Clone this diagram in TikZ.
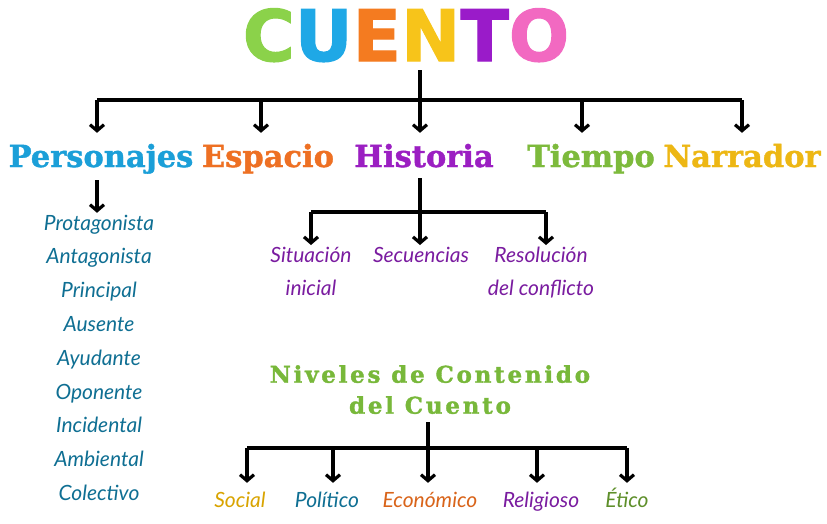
\documentclass[tikz,border=0pt]{standalone}
\usepackage{fontspec}
\usetikzlibrary{arrows.meta}
\newfontfamily\titlefont{DejaVu Sans}[FakeBold=1.5]
\newfontfamily\headfont{DejaVu Serif}[FakeBold=1.2]
\newfontfamily\nivfont{DejaVu Serif}[LetterSpace=12,FakeBold=1.5]
\newfontfamily\itemfont{Lato}
\definecolor{tC}{HTML}{8BD24A}
\definecolor{tU}{HTML}{1FA8E6}
\definecolor{tE}{HTML}{F47B20}
\definecolor{tN}{HTML}{F7C41A}
\definecolor{tT}{HTML}{9A1BC9}
\definecolor{tO}{HTML}{F269C1}
\definecolor{hPers}{HTML}{1B9FD8}
\definecolor{hEsp}{HTML}{EE7023}
\definecolor{hHist}{HTML}{9B1FC2}
\definecolor{hTiem}{HTML}{7DBA3C}
\definecolor{hNarr}{HTML}{EDB714}
\definecolor{listblue}{HTML}{0F6F93}
\definecolor{histpurple}{HTML}{7A1CA0}
\definecolor{nivgreen}{HTML}{78B83A}
\definecolor{socgold}{HTML}{D9A400}
\definecolor{ecoorange}{HTML}{D9641A}
\definecolor{eticogreen}{HTML}{5E8F2A}
\begin{document}
\begin{tikzpicture}[x=1pt,y=-1pt,
  conn/.style={line width=3.2pt, black},
  arr/.style={conn, -{Straight Barb[length=6pt,width=14pt]}},
  head/.style={font=\headfont\bfseries\fontsize{30.5}{30.5}\selectfont, inner sep=0pt, text height=24pt, text depth=7pt, anchor=base},
  item/.style={font=\itemfont\itshape\fontsize{21}{21}\selectfont, inner sep=0pt, text height=14pt, text depth=5pt, anchor=base},
  sub/.style={font=\itemfont\itshape\fontsize{21}{33}\selectfont, inner sep=0pt, align=center, anchor=north, text=histpurple}
]
\useasboundingbox (0,0) rectangle (827,523);
\fill[white] (0,0) rectangle (827,523);

% title
\node[font=\titlefont\bfseries\fontsize{71}{71}\selectfont, anchor=base, inner sep=0pt] (cuento) at (406,61)
  {\textcolor{tC}{C}\textcolor{tU}{U}\textcolor{tE}{E}\textcolor{tN}{N}\textcolor{tT}{T}\textcolor{tO}{O}};

% headings
\node[head, text=hPers] (pers) at (101,167) {Personajes};
\node[head, text=hEsp]  (esp)  at (268,167) {Espacio};
\node[head, text=hHist] (hist) at (424,167) {Historia};
\node[head, text=hTiem] (tiem) at (591,167) {Tiempo};
\node[head, text=hNarr] (narr) at (742,167) {Narrador};

% top tree
\coordinate (c0) at (420,70);
\coordinate (hub) at (420,100);
\coordinate (j1) at (97,100);
\coordinate (j2) at (261,100);
\coordinate (j4) at (582,100);
\coordinate (j5) at (742,100);
\draw[conn] (c0) -- (hub);
\draw[conn] (j1) -- (j5);
\draw[arr, shorten >=10pt] (j1) -- (j1 |- pers.north);
\draw[arr, shorten >=10pt] (j2) -- (j2 |- esp.north);
\draw[arr, shorten >=10pt] (hub) -- (hub |- hist.north);
\draw[arr, shorten >=10pt] (j4) -- (j4 |- tiem.north);
\draw[arr, shorten >=10pt] (j5) -- (j5 |- narr.north);

% personajes list
\foreach \t [count=\i from 0] in {Protagonista,Antagonista,Principal,Ausente,Ayudante,Oponente,Incidental,Ambiental,Colectivo}
  \node[item, text=listblue] (p\i) at (99,{230+33.8*\i}) {\t};
\draw[arr, shorten <=6pt, shorten >=3pt] (j1 |- pers.south) -- (j1 |- p0.north);

% historia subtree
\coordinate (h0) at (420,212);
\coordinate (h1) at (311,212);
\coordinate (h3) at (546,212);
\node[sub] (sit) at (311,247) {Situación\\inicial};
\node[sub] (sec) at (421,247) {Secuencias};
\node[sub] (res) at (541,247) {Resolución\\del conflicto};
\draw[conn, shorten <=4pt] (hub |- hist.south) -- (h0);
\draw[conn] (h1) -- (h3);
\draw[arr, shorten >=2pt] (h1) -- (h1 |- sit.north);
\draw[arr, shorten >=2pt] (h0) -- (h0 |- sec.north);
\draw[arr, shorten >=2pt] (h3) -- (h3 |- res.north);

% niveles
\node[font=\nivfont\bfseries\fontsize{23}{31}\selectfont, text=nivgreen, align=center, anchor=north, inner sep=0pt] (niv) at (430,365) {Niveles de Contenido\\del Cuento};
\coordinate (n0) at (428,448);
\coordinate (n1) at (247,448);
\coordinate (n2) at (333,448);
\coordinate (n4) at (537,448);
\coordinate (n5) at (627,448);
\draw[conn, shorten <=8pt] (n0 |- niv.south) -- (n0);
\draw[conn] (n1) -- (n5);
\node[item, text=socgold]    (soc) at (240,507) {Social};
\node[item, text=listblue]   (pol) at (327,507) {Político};
\node[item, text=ecoorange]  (eco) at (430,507) {Económico};
\node[item, text=histpurple] (rel) at (541,507) {Religioso};
\node[item, text=eticogreen] (eti) at (627,507) {Ético};
\draw[arr, shorten >=10pt] (n1) -- (n1 |- soc.north);
\draw[arr, shorten >=10pt] (n2) -- (n2 |- pol.north);
\draw[arr, shorten >=10pt] (n0) -- (n0 |- eco.north);
\draw[arr, shorten >=10pt] (n4) -- (n4 |- rel.north);
\draw[arr, shorten >=10pt] (n5) -- (n5 |- eti.north);
\end{tikzpicture}
\end{document}
